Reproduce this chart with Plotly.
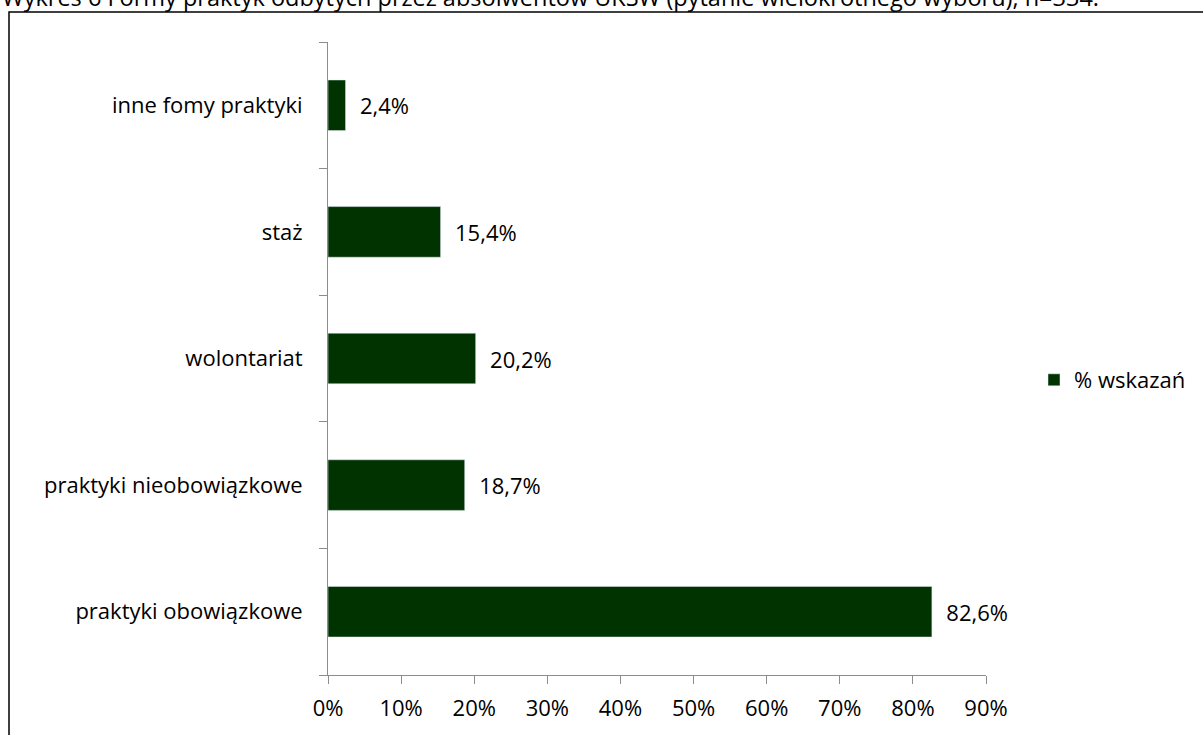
import plotly.graph_objects as go

categories = ["praktyki obowiązkowe", "praktyki nieobowiązkowe", "wolontariat", "staż", "inne fomy praktyki"]
values = [82.6, 18.7, 20.2, 15.4, 2.4]
labels = ["82,6%", "18,7%", "20,2%", "15,4%", "2,4%"]
tick_vals = [0, 10, 20, 30, 40, 50, 60, 70, 80, 90]
tick_text = ["0%", "10%", "20%", "30%", "40%", "50%", "60%", "70%", "80%", "90%"]
series_name = "% wskazań"
title_text = "Wykres 6 Formy praktyk odbytych przez absolwentów UKSW (pytanie wielokrotnego wyboru), n=334."

W, H = 1203, 735
L, R, T, B = 328, 217, 42, 60
pw, ph = W - L - R, H - T - B

def px(x):
    return (x - L) / pw

def py(y):
    return 1 - (y - T) / ph

font = "Open Sans"
fs = 22
fig = go.Figure()
fig.add_trace(go.Bar(
    y=categories, x=values, orientation="h", name=series_name,
    marker=dict(color="#003300"), text=labels, textposition="outside",
    texttemplate="\u00a0\u00a0%{text}",
    textfont=dict(family=font, size=fs, color="black"), cliponaxis=False,
    showlegend=True,
))
fig.update_layout(
    width=W, height=H,
    margin=dict(l=L, r=R, t=T, b=B, autoexpand=False),
    paper_bgcolor="white", plot_bgcolor="white",
    bargap=0.6,
    font=dict(family=font, size=fs, color="black"),
    xaxis=dict(range=[0, 90], tickvals=tick_vals, ticktext=tick_text,
               showgrid=False, zeroline=False, showline=True, linecolor="#8c8c8c",
               linewidth=1, ticks="outside", ticklen=8, tickcolor="#8c8c8c",
               ticklabelstandoff=6, automargin=False,
               tickfont=dict(family=font, size=fs), fixedrange=True),
    yaxis=dict(categoryorder="array", categoryarray=categories,
               showgrid=False, zeroline=False, showline=True, linecolor="#8c8c8c",
               linewidth=1, ticks="outside", ticklen=8, tickcolor="#8c8c8c",
               tickson="boundaries", ticklabelstandoff=20, automargin=False,
               tickfont=dict(family=font, size=fs), fixedrange=True),
    legend=dict(xref="container", yref="container", x=1034 / W, y=1 - 380 / H,
                xanchor="left", yanchor="middle",
                font=dict(family=font, size=fs), bgcolor="rgba(0,0,0,0)",
                itemwidth=30),
    shapes=[dict(type="rect", xref="paper", yref="paper",
                 x0=px(9), x1=px(1210), y0=py(745), y1=py(12),
                 line=dict(color="black", width=1.5), fillcolor="rgba(0,0,0,0)")],
    annotations=[dict(text=title_text, xref="paper", yref="paper",
                      x=px(0), y=py(-3), xanchor="left", yanchor="middle",
                      showarrow=False, font=dict(family=font, size=23.5, color="black"))],
)
fig.write_html("out.html")
